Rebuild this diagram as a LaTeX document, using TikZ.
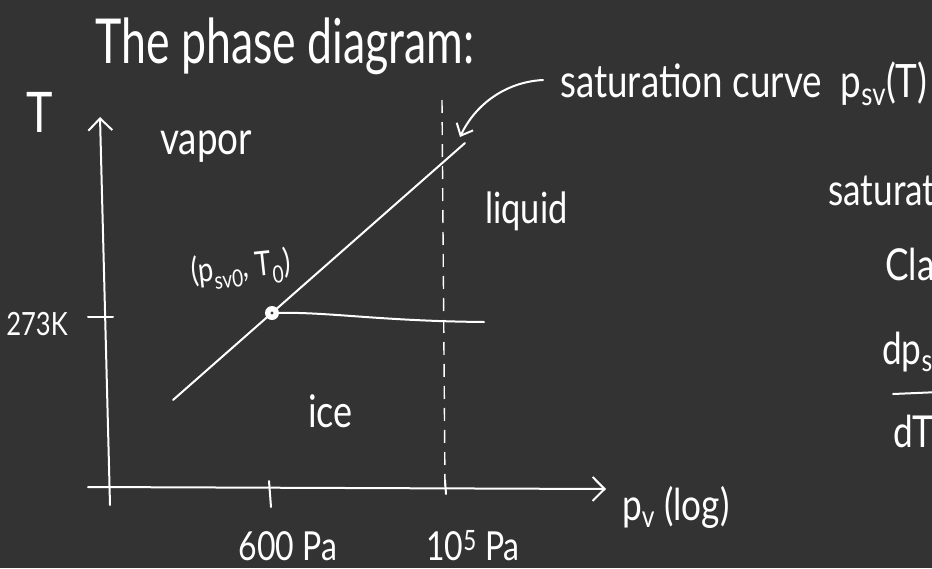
\documentclass[tikz,border=0pt]{standalone}
\usepackage{fontspec}
\newfontfamily\hand[FakeStretch=0.8]{Lato}
\newfontfamily\handtitle[FakeStretch=0.72]{Lato}
\usetikzlibrary{arrows.meta}
\definecolor{bg}{RGB}{51,51,51}
\begin{document}
\begin{tikzpicture}[x=1pt,y=-1pt,
  ink/.style={white, line width=2pt, line cap=round, line join=round},
  lbl/.style={text=white, inner sep=0pt, font=\hand\fontsize{#1}{#1}\selectfont},
  lbl/.default=40,
  barb/.style={-{Straight Barb[length=12pt,width=24pt,line width=2pt]}},
  smallbarb/.style={-{Straight Barb[length=10pt,width=18pt,line width=2pt]}},
  dashline/.style={white, line width=1.4pt, dash pattern=on 13pt off 9pt}]
\fill[bg] (0,0) rectangle (932,568);
\clip (0,0) rectangle (932,568);
\useasboundingbox (0,0) rectangle (932,568);

% title
\node[text=white, inner sep=0pt, font=\handtitle\fontsize{62}{62}\selectfont, anchor=base west] (title) at (95,63) {The phase diagram:};

% axes
\coordinate (ybot) at (110,505);
\coordinate (ytop) at (100,117);
\coordinate (xl) at (88,487);
\coordinate (xr) at (606,489);
\draw[ink, barb] (ybot) -- (ytop);
\draw[ink, barb] (xl) -- (xr);
\node[lbl=56, anchor=base] (Tlab) at (40,132) {T};
\node[lbl=44, anchor=base west] (plab) at (622,520) {p\textsubscript{v} (log)};

% ticks
\coordinate (t1a) at (88,317); \coordinate (t1b) at (113,317);
\draw[ink] (t1a) -- (t1b);
\node[lbl=32, anchor=base east] (k273) at (68,335) {273K};
\coordinate (t2a) at (269,481); \coordinate (t2b) at (271,507);
\draw[ink] (t2a) -- (t2b);
\node[lbl=40, anchor=base] (p600) at (288,560) {600 Pa};
\coordinate (t3a) at (445,480); \coordinate (t3b) at (446,494);
\draw[ink] (t3a) -- (t3b);
\node[lbl=40, anchor=base west] (p105) at (426,560) {10\textsuperscript{5} Pa};

% dashed line at 1e5 Pa
\coordinate (d1) at (442,100);
\coordinate (d2) at (445,486);
\draw[dashline] (d1) -- (d2);

% saturation line and melting line
\coordinate (s1) at (173,400);
\coordinate (s2) at (465,143);
\draw[ink] (s1) -- (s2);
\node[circle, fill=white, minimum size=14pt, inner sep=0pt] (tp) at (272,313) {};
\fill[bg] (tp.center) circle (1.6pt);
\coordinate (m2) at (484,322);
\draw[ink] (tp) .. controls (330,312) and (380,321) .. (m2);

% labels in regions
\node[lbl=46, anchor=base west] (vapor) at (160,154) {vapor};
\node[lbl=43, anchor=base west] (liquid) at (485,223) {liquid};
\node[lbl=45, anchor=base west] (ice) at (308,427) {ice};
\node[lbl=34, anchor=base west, rotate=6] (tplab) at (192,283) {(p\textsubscript{sv0}, T\textsubscript{0})};

% saturation curve annotation
\node[lbl=46, anchor=base west] (satlab) at (560,97) {saturation curve \ p\textsubscript{sv}(T)};
\coordinate (arrstart) at (543,80);
\coordinate (arrtip) at (460,137);
\draw[ink, smallbarb] (arrstart) .. controls (505,82) and (475,105) .. (arrtip);

% right-hand, cut-off notes
\node[lbl=44, anchor=base west] (sat2) at (828,205) {saturation};
\node[lbl=44, anchor=base west] (cla) at (885,280) {Clausius};
\node[lbl=44, anchor=base west] (dps) at (882,364) {dp\textsubscript{sv}};
\coordinate (fb1) at (893,394); \coordinate (fb2) at (940,392);
\draw[ink] (fb1) -- (fb2);
\node[lbl=44, anchor=base west] (dT) at (893,447) {dT};
\end{tikzpicture}
\end{document}
